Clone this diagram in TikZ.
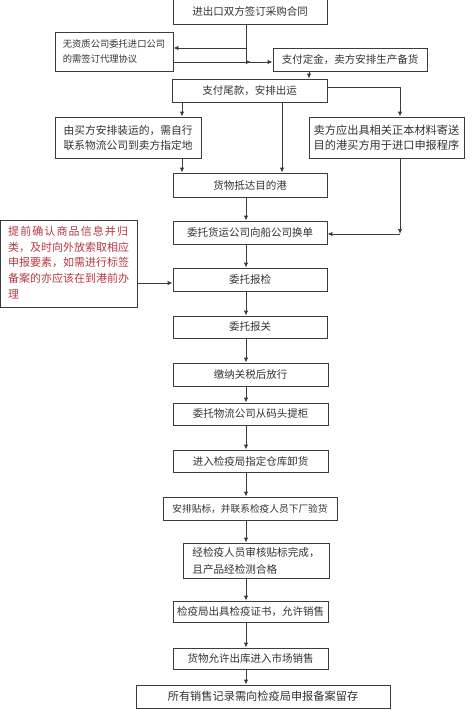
\documentclass[tikz,border=0pt]{standalone}
\usepackage{fontspec}
\setmainfont{Noto Sans CJK SC}
\newfontfamily\cjkwide[LetterSpace=10]{Noto Sans CJK SC}
\usetikzlibrary{arrows.meta}
\definecolor{edge}{RGB}{60,60,60}
\definecolor{txt}{RGB}{50,50,50}
\definecolor{notered}{RGB}{185,55,65}
\tikzset{
  box/.style={draw=edge, line width=0.9pt, inner sep=2pt, align=center, text=txt,
    font=\fontsize{10.5}{14}\selectfont},
  line/.style={draw=edge, line width=0.9pt},
  arr/.style={line, -{Latex[length=5pt,width=4.5pt]}},
}
\begin{document}
\begin{tikzpicture}[x=1pt,y=-1pt]
\useasboundingbox (0,0) rectangle (474,710);
% nodes
\node[box, minimum width=154pt, minimum height=25pt] (b1) at (250,11.5) {进出口双方签订采购合同};
\node[box, minimum width=118pt, minimum height=39pt, align=left, font=\fontsize{9.3}{15}\selectfont] (b2) at (114,51.5) {无资质公司委托进口公司\\的需签订代理协议};
\node[box, minimum width=154pt, minimum height=23pt] (b3) at (350,59.5) {支付定金，卖方安排生产备货};
\node[box, minimum width=155pt, minimum height=23pt] (b4) at (249.5,90.5) {支付尾款，安排出运};
\node[box, minimum width=146pt, minimum height=41pt, align=left, font=\fontsize{10.75}{15}\selectfont] (b5) at (128,137.5) {由买方安排装运的，需自行\\联系物流公司到卖方指定地};
\node[box, minimum width=155pt, minimum height=41pt, align=left, font=\fontsize{11.2}{15}\selectfont] (b6) at (386.5,137.5) {卖方应出具相关正本材料寄送\\目的港买方用于进口申报程序};
\node[box, minimum width=154pt, minimum height=24pt] (b7) at (250,185) {货物抵达目的港};
\node[box, minimum width=154pt, minimum height=23pt] (b8) at (250,232.5) {委托货运公司向船公司换单};
\node[draw=edge, line width=0.9pt, minimum width=137pt, minimum height=87pt, inner sep=0pt] (note) at (68.5,263.5) {};
\node[anchor=north west, inner sep=0pt, align=left, text=notered, font=\fontsize{11}{15.7}\selectfont] (notetext) at (8,226) {{\cjkwide 提前确认商品信息并归}\\类，及时向外放索取相应\\申报要素，如需进行标签\\备案的亦应该在到港前办\\理};
\node[box, minimum width=154pt, minimum height=23pt] (b9) at (250,279.5) {委托报检};
\node[box, minimum width=154pt, minimum height=22pt] (b10) at (250,327) {委托报关};
\node[box, minimum width=155pt, minimum height=23pt] (b11) at (250.5,374.5) {缴纳关税后放行};
\node[box, minimum width=155pt, minimum height=22pt] (b12) at (250.5,414) {委托物流公司从码头提柜};
\node[box, minimum width=155pt, minimum height=22pt] (b13) at (250.5,461) {进入检疫局指定仓库卸货};
\node[box, minimum width=174pt, minimum height=23pt, font=\fontsize{9.7}{13}\selectfont] (b14) at (250,508.5) {安排贴标，并联系检疫人员下厂验货};
\node[box, minimum width=146pt, minimum height=35pt, align=left, font=\fontsize{10.6}{17}\selectfont] (b15) at (256,560.5) {经检疫人员审核贴标完成，\\且产品经检测合格};
\node[box, minimum width=155pt, minimum height=21pt] (b16) at (250.5,611.5) {检疫局出具检疫证书，允许销售};
\node[box, minimum width=155pt, minimum height=21pt] (b17) at (250.5,658.5) {货物允许出库进入市场销售};
\node[box, minimum width=254pt, minimum height=23pt, font=\fontsize{11.2}{14}\selectfont] (b18) at (263,696.5) {所有销售记录需向检疫局申报备案留存};
% helper coordinates
\coordinate (xm) at (246,0);
\coordinate (j0) at (246,48);
\coordinate (j1) at (246,62);
\coordinate (j2) at (251,62);
\coordinate (x3) at (309,0);
\coordinate (j3) at (400,87);
\coordinate (xl) at (182,0);
\coordinate (xc) at (282,0);
\coordinate (j4) at (400,234);
\coordinate (yn) at (0,283);
% connectors
\draw[line] (b1.south -| xm) -- (j1);
\draw[arr] (j0) -- (b2.east |- j0);
\draw[arr] (j1) -- (b3.west |- j1);
\draw[arr] (b2.east |- j1) -- (j2);
\draw[arr] (b3.south -| x3) -- (b4.north -| x3);
\draw[arr] (b4.east |- j3) -| (b6.north -| j3);
\draw[arr] (b4.south -| xl) -- (b5.north -| xl);
\draw[arr] (b4.south -| xc) -- (b7.north -| xc);
\draw[arr] (b5.south -| xl) -- (b7.north -| xl);
\draw[arr] (b7.south -| xm) -- (b8.north -| xm);
\draw[arr] (b6.south -| j4) -- (j4);
\draw[arr] (j4) -- (b8.east |- j4);
\draw[arr] (note.east |- yn) -- (b9.west |- yn);
\draw[arr] (b8.south -| xm) -- (b9.north -| xm);
\draw[arr] (b9.south -| xm) -- (b10.north -| xm);
\draw[arr] (b10.south -| xm) -- (b11.north -| xm);
\draw[arr] (b11.south -| xm) -- (b12.north -| xm);
\draw[arr] (b12.south -| xm) -- (b13.north -| xm);
\draw[arr] (b13.south -| xm) -- (b14.north -| xm);
\draw[arr] (b14.south -| xm) -- (b15.north -| xm);
\draw[arr] (b15.south -| xm) -- (b16.north -| xm);
\draw[arr] (b16.south -| xm) -- (b17.north -| xm);
\draw[arr] (b17.south -| xm) -- (b18.north -| xm);
\end{tikzpicture}
\end{document}
